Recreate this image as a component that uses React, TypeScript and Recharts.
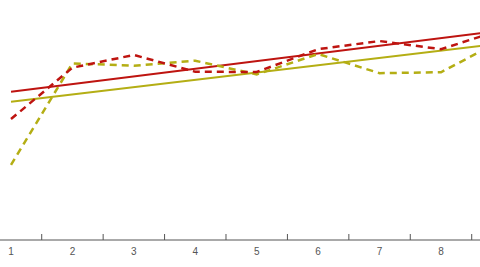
import React from 'react';
import { LineChart, Line, XAxis, YAxis } from 'recharts';

const categories = [1, 2, 3, 4, 5, 6, 7, 8, 9];
const redSeries = [50.4, 71.8, 77.1, 70.1, 70.0, 79.5, 82.9, 79.5, 87.7];
const oliveSeries = [31.3, 73.6, 72.6, 74.7, 69.0, 77.5, 69.5, 69.9, 83.4];
const redTrend = [61.8, null, null, null, null, null, null, null, 87.3];
const oliveTrend = [57.6, null, null, null, null, null, null, null, 81.9];
const tickLabels = ['1', '2', '3', '4', '5', '6', '7', '8'];
const tickMarks = [1.5, 2.5, 3.5, 4.5, 5.5, 6.5, 7.5, 8.5];

const data = categories.map((c, i) => ({
  x: c,
  red: redSeries[i],
  olive: oliveSeries[i],
  redTrend: redTrend[i],
  oliveTrend: oliveTrend[i],
}));

const allTicks = [...tickLabels.map(Number), ...tickMarks].sort((a, b) => a - b);

const RED = '#be1410';
const OLIVE = '#b4ae14';

const CustomTick = (props: any) => {
  const { x, y, payload } = props;
  const v = payload.value;
  if (Number.isInteger(v)) {
    return (
      <text x={x} y={y + 15} textAnchor="middle" fontSize={10} fill="#555" fontFamily="'Liberation Sans', Arial, sans-serif">
        {String(v)}
      </text>
    );
  }
  return <line x1={x} x2={x} y1={y - 6} y2={y} stroke="#555" strokeWidth={1} />;
};

const NoDot = (props: any) => <g key={props.key ?? props.index} />;

export default function App() {
  return (
    <div style={{ position: 'absolute', left: 0, top: 0, width: 480, height: 267, overflow: 'hidden', background: '#fff' }}>
      <LineChart width={480} height={267} data={data} margin={{ top: 0, right: 0, bottom: 0, left: 0 }}>
        <XAxis
          dataKey="x"
          type="number"
          domain={[0.8209, 8.635]}
          allowDataOverflow
          ticks={allTicks}
          interval={0}
          tick={<CustomTick />}
          tickLine={false}
          tickSize={0}
          tickMargin={0}
          height={27}
          axisLine={{ stroke: '#555', strokeWidth: 1 }}
        />
        <YAxis hide domain={[0, 100]} allowDataOverflow />
        <Line dataKey="redTrend" stroke={RED} strokeWidth={2} dot={NoDot} activeDot={false} connectNulls isAnimationActive={false} type="linear" />
        <Line dataKey="oliveTrend" stroke={OLIVE} strokeWidth={2} dot={NoDot} activeDot={false} connectNulls isAnimationActive={false} type="linear" />
        <Line dataKey="olive" stroke={OLIVE} strokeWidth={2.5} strokeDasharray="7 5" dot={NoDot} activeDot={false} isAnimationActive={false} type="linear" />
        <Line dataKey="red" stroke={RED} strokeWidth={2.5} strokeDasharray="7 5" dot={NoDot} activeDot={false} isAnimationActive={false} type="linear" />
      </LineChart>
    </div>
  );
}
